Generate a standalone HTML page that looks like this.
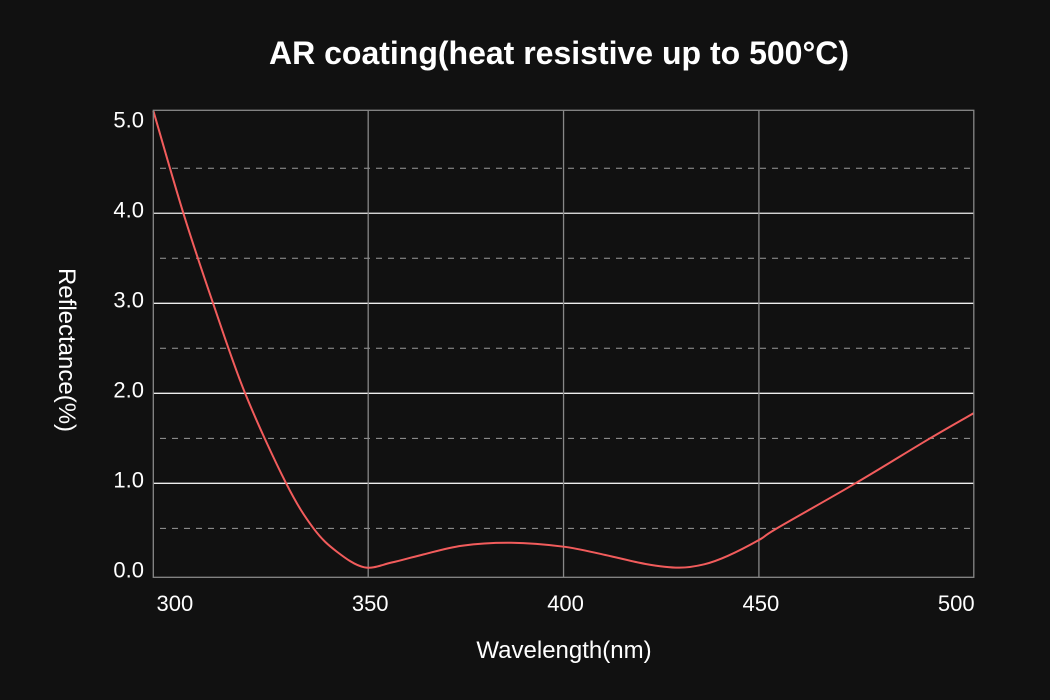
<!DOCTYPE html>
<html><head><meta charset="utf-8"><style>
html,body{margin:0;padding:0;background:#111;}
svg{display:block;font-family:"Liberation Sans",sans-serif;}
</style></head><body>
<svg id="chart" width="1050" height="700" viewBox="0 0 1050 700">
<rect width="1050" height="700" fill="#111"/>
<text x="559" y="64" text-anchor="middle" fill="#fff" font-size="32" font-weight="bold">AR coating(heat resistive up to 500°C)</text>
<text x="564" y="658" text-anchor="middle" fill="#fff" font-size="24">Wavelength(nm)</text>
<text transform="translate(59,350) rotate(90)" text-anchor="middle" fill="#fff" font-size="24">Reflectance(%)</text>
<g id="grid"></g><g id="ticks"></g><g id="series"></g>
<rect x="153.3" y="110.3" width="820.5" height="467" fill="none" stroke="#888" stroke-width="1.3"/>
</svg>
<script>
const xMin=295, xMax=505, yMin=-0.044, yMax=5.144;
const xTicks=[300,350,400,450,500];
const xTickLabels=["300","350","400","450","500"];
const yTicks=[0,1,2,3,4,5];
const yTickLabels=["0.0","1.0","2.0","3.0","4.0","5.0"];
const yMinor=[0.5,1.5,2.5,3.5,4.5];
const wavelengths=[295,302.7,310.3,318.5,329,336,342,349,356,363.6,374,386.6,400,410.7,421,429.5,436,442,450,454.6,474.7,493.8,505];
const reflectance=[5.14,4.0,3.0,2.0,1.0,0.5,0.24,0.067,0.12,0.204,0.307,0.34,0.296,0.204,0.104,0.063,0.1,0.193,0.37,0.5,1.0,1.5,1.78];
const L=153.3,R=973.8,T=110.3,B=577.3;
const x=v=>L+(v-xMin)/(xMax-xMin)*(R-L);
const y=v=>B-(v-yMin)/(yMax-yMin)*(B-T);
const NS="http://www.w3.org/2000/svg";
function mk(tag,attrs,parent){const e=document.createElementNS(NS,tag);for(const k in attrs)e.setAttribute(k,attrs[k]);parent.appendChild(e);return e;}
const grid=document.getElementById('grid'),ticks=document.getElementById('ticks'),series=document.getElementById('series');
yMinor.forEach(v=>{const l=mk('line',{x1:160,x2:R,y1:y(v),y2:y(v),stroke:'#999','stroke-width':1,'stroke-dasharray':'6 6'},grid);

});
yTicks.forEach((v,i)=>{if(v>0&&v<5){const l=mk('line',{x1:L,x2:R,y1:y(v),y2:y(v),stroke:'#eee','stroke-width':1.3},grid);

}
const t=mk('text',{x:144,y:y(v)+4,'text-anchor':'end',fill:'#fff','font-size':22},ticks);t.textContent=yTickLabels[i];

});
xTicks.forEach((v,i)=>{if(v>300&&v<500){const l=mk('line',{x1:x(v),x2:x(v),y1:T,y2:B,stroke:'#888','stroke-width':1.3},grid);

}
const t=mk('text',{x:x(v)+2,y:611,'text-anchor':'middle',fill:'#fff','font-size':22},ticks);t.textContent=xTickLabels[i];

});
const P=wavelengths.map((w,i)=>[x(w),y(reflectance[i])]);
let d='M'+P[0][0]+','+P[0][1];
for(let i=0;i<P.length-1;i++){const p0=P[Math.max(0,i-1)],p1=P[i],p2=P[i+1],p3=P[Math.min(P.length-1,i+2)];
const c1=[p1[0]+(p2[0]-p0[0])/6,p1[1]+(p2[1]-p0[1])/6],c2=[p2[0]-(p3[0]-p1[0])/6,p2[1]-(p3[1]-p1[1])/6];
d+=' C'+c1+' '+c2+' '+p2;}
const path=mk('path',{d:d,fill:'none',stroke:'#f25c5c','stroke-width':2},series);


</script>
</body></html>
